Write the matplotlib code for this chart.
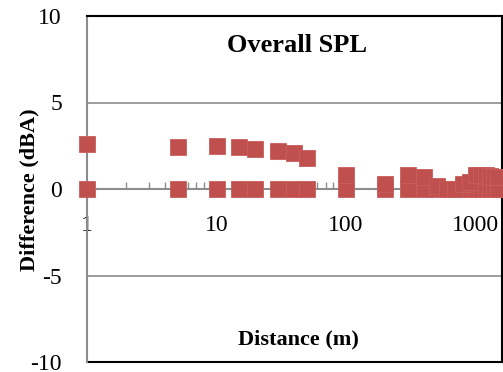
import matplotlib
matplotlib.use('Agg')
import matplotlib.pyplot as plt
from matplotlib.ticker import LogLocator, NullFormatter, FixedLocator

# distances (m) and differences (dBA)
dist_zero = [1, 5, 10, 15, 20, 30, 40, 50, 100, 200, 300, 400, 500, 600, 700,
             800, 900, 1000, 1100, 1200, 1300, 1400, 1500]
diff_zero = [0] * len(dist_zero)
dist = [1, 5, 10, 15, 20, 30, 40, 50, 100, 200, 300, 400, 500, 600, 700,
        800, 900, 1000, 1100, 1200, 1300, 1400, 1500]
diff = [2.6, 2.4, 2.5, 2.4, 2.3, 2.2, 2.1, 1.8, 0.8, 0.3, 0.8, 0.7, 0.2, 0.0, 0.0,
        0.3, 0.4, 0.8, 0.8, 0.8, 0.75, 0.7, 0.7]
yticks = [-10, -5, 0, 5, 10]
xticks = [1, 10, 100, 1000]

red = '#C0504D'
serif = ['Liberation Serif', 'DejaVu Serif']

fig = plt.figure(figsize=(5.03, 3.72), dpi=100)
W, H = 503.0, 372.0
ax = fig.add_axes([87 / W, 1 - 362 / H, (502 - 87) / W, (362 - 16) / H])

ax.plot(dist_zero, diff_zero, 's', color=red, ms=11, mec='#C95E5C', mew=0.6, clip_on=False, zorder=5)
ax.plot(dist, diff, 's', color=red, ms=11, mec='#C95E5C', mew=0.6, clip_on=False, zorder=5)

ax.set_xscale('log')
ax.set_xlim(1, 10 ** ((502 - 87) / 129.5))
ax.set_ylim(-10, 10)

# x axis crosses at y = 0
ax.spines['bottom'].set_position(('data', 0))
ax.spines['bottom'].set_color('#8c8c8c')
ax.spines['bottom'].set_linewidth(1.5)
ax.spines['left'].set_color('#8c8c8c')
ax.spines['left'].set_linewidth(1.5)
ax.spines['top'].set_color('black')
ax.spines['top'].set_linewidth(1.5)
ax.spines['right'].set_color('black')
ax.spines['right'].set_linewidth(1.5)
ax.plot([0, 1], [0, 0], transform=ax.transAxes, color='black', lw=1.5, clip_on=False)

for y in [5, -5]:
    ax.axhline(y, color='#8c8c8c', lw=1.2, zorder=1)

ax.xaxis.set_major_locator(FixedLocator(xticks))
ax.xaxis.set_minor_locator(LogLocator(base=10, subs=range(2, 10)))
ax.xaxis.set_minor_formatter(NullFormatter())
ax.set_xticklabels([str(t) for t in xticks], family=serif, fontsize=17)
ax.tick_params(axis='x', which='both', direction='in', length=5, width=1, color='#8c8c8c', pad=19)

ax.set_yticks(yticks)
ax.set_yticklabels([str(t) for t in yticks], family=serif, fontsize=17)
ax.tick_params(axis='y', length=0, pad=18)

fig.text(297 / W, 1 - 46 / H, 'Overall SPL', ha='center', va='center',
         family=serif, fontweight='bold', fontsize=19)
fig.text(298 / W, 1 - 339 / H, 'Distance (m)', ha='center', va='center',
         family=serif, fontweight='bold', fontsize=16)
fig.text(29 / W, 1 - 190 / H, 'Difference (dBA)', ha='center', va='center', rotation=90,
         family=serif, fontweight='bold', fontsize=16)

fig.savefig('out.png', dpi=100)
